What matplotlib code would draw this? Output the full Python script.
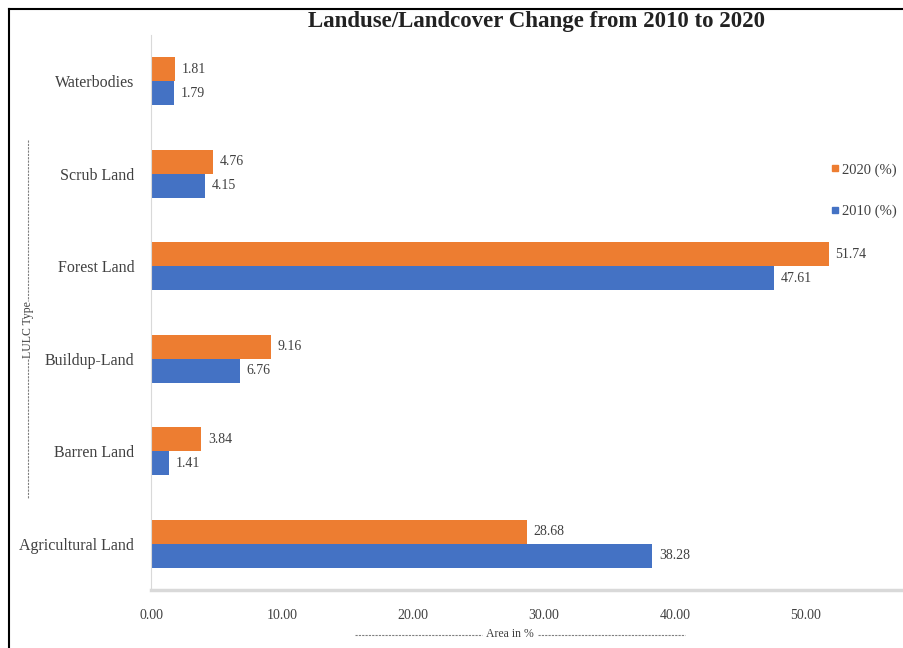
import matplotlib.pyplot as plt
import numpy as np
from matplotlib.lines import Line2D

plt.rcParams['font.family'] = ['Liberation Serif', 'DejaVu Serif']

# data (bottom to top)
categories = ['Agricultural Land', 'Barren Land', 'Buildup-Land',
              'Forest Land', 'Scrub Land', 'Waterbodies']
area_2010 = [38.28, 1.41, 6.76, 47.61, 4.15, 1.79]
area_2020 = [28.68, 3.84, 9.16, 51.74, 4.76, 1.81]
xticks = [0, 10, 20, 30, 40, 50]

c2010 = '#4472C4'
c2020 = '#ED7D31'
txt = '#404040'

W, H = 904, 648
fig = plt.figure(figsize=(W / 100, H / 100), dpi=100)
ax = fig.add_axes([151 / W, 1 - 590 / H, (W - 151) / W, (590 - 35) / H])

y = np.arange(len(categories))
bh = 0.26
ax.barh(y - bh / 2, area_2010, height=bh, color=c2010, label='2010 (%)')
ax.barh(y + bh / 2, area_2020, height=bh, color=c2020, label='2020 (%)')

for yi, v in zip(y, area_2010):
    ax.text(v + 0.5, yi - bh / 2, f'{v:.2f}', va='center', ha='left',
            fontsize=10, color=txt)
for yi, v in zip(y, area_2020):
    ax.text(v + 0.5, yi + bh / 2, f'{v:.2f}', va='center', ha='left',
            fontsize=10, color=txt)

ax.set_xlim(0, 57.5)
ax.set_ylim(-0.5, 5.5)
ax.set_xticks(xticks)
ax.set_xticklabels([f'{t:.2f}' for t in xticks], fontsize=10, color=txt)
ax.set_yticks(y)
ax.set_yticklabels(categories, fontsize=11.5, color=txt)
ax.tick_params(length=0, pad=12)
ax.tick_params(axis='x', pad=14)
for s in ['top', 'right']:
    ax.spines[s].set_visible(False)
ax.spines['left'].set_color('#d9d9d9')
ax.spines['bottom'].set_color('#d9d9d9')
ax.spines['bottom'].set_linewidth(2.5)

# legend (cut by right edge like the reference)
handles = [Line2D([], [], marker='s', ls='', color=c2020, markersize=5),
           Line2D([], [], marker='s', ls='', color=c2010, markersize=5)]
fig.legend(handles, ['2020 (%)', '2010 (%)'], loc='upper left',
           bbox_to_anchor=(816 / W, 1 - 150 / H), frameon=False,
           fontsize=10.5, labelspacing=1.9, handletextpad=0.1,
           handlelength=0.8, labelcolor=txt)

# title
fig.text(537 / W, 1 - 22 / H, 'Landuse/Landcover Change from 2010 to 2020',
         ha='center', va='center', fontsize=16.5, fontweight='bold',
         color='#222222')

# axis titles with dotted lines
fig.text(28 / W, 1 - 330 / H, 'LULC Type', rotation=90, ha='center',
         va='center', fontsize=8.5, color=txt)
fig.add_artist(Line2D([28 / W, 28 / W], [1 - 140 / H, 1 - 301 / H],
                      color='#808080', lw=0.8, ls=(0, (2, 1))))
fig.add_artist(Line2D([28 / W, 28 / W], [1 - 359 / H, 1 - 498 / H],
                      color='#808080', lw=0.8, ls=(0, (2, 1))))
fig.text(510 / W, 1 - 634 / H, 'Area in %', ha='center', va='center',
         fontsize=8.5, color=txt)
fig.add_artist(Line2D([355 / W, 482 / W], [1 - 635 / H, 1 - 635 / H],
                      color='#808080', lw=0.8, ls=(0, (2, 1))))
fig.add_artist(Line2D([538 / W, 685 / W], [1 - 635 / H, 1 - 635 / H],
                      color='#808080', lw=0.8, ls=(0, (2, 1))))

# outer border (top and left only)
fig.add_artist(Line2D([9 / W, 1], [1 - 9 / H, 1 - 9 / H], color='black', lw=1.5))
fig.add_artist(Line2D([9 / W, 9 / W], [0, 1 - 9 / H], color='black', lw=1.5))

fig.savefig('out.png', dpi=100)
